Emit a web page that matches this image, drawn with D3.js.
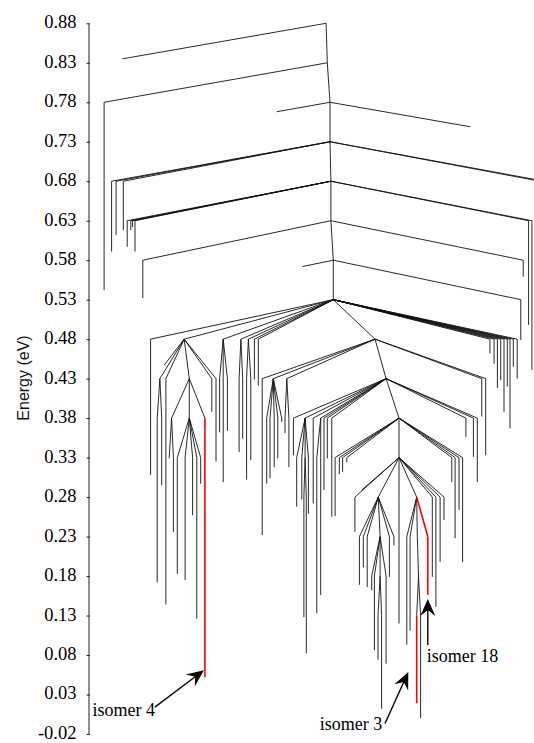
<!DOCTYPE html>
<html>
<head>
<meta charset="utf-8">
<script src="https://cdn.jsdelivr.net/npm/d3@7"></script>
<style>
  body { margin: 0; background: #fff; }
</style>
</head>
<body>
<div id="chart"></div>
<script>
// Disconnectivity graph: energy levels every 0.05 eV, minima hang below their basins

// tick labels of the energy axis
var tickLabels = ["0.88","0.83","0.78","0.73","0.68","0.63","0.58","0.53","0.48","0.43",
                  "0.38","0.33","0.28","0.23","0.18","0.13","0.08","0.03","-0.02"];
var levelStep = 0.05;

// nodes: [id, parent, position (arbitrary layout units 0-150), energy eV]
// internal nodes carry their level energy, leaves carry the minimum energy
var trunk = [
  ["T88", null, 78.7, 0.88],
  ["T83", "T88", 79.1, 0.83],
  ["T78", "T83", 80.0, 0.78],
  ["T73", "T78", 80.0, 0.73],
  ["T68", "T73", 80.3, 0.68],
  ["T63", "T68", 80.3, 0.63],
  ["T58", "T63", 81.1, 0.58],
  ["T53", "T58", 81.1, 0.53],
  ["T48", "T53", 95.0, 0.48],
  ["T43", "T48", 98.7, 0.43],
  ["T38", "T43", 103.0, 0.38],
  ["T33", "T38", 103.0, 0.33]
];

var upperBranches = [
  ["a1", "T88", 10.8, 0.835],
  ["a2", "T83", 4.7, 0.542],
  ["a3", "T78", 62.2, 0.768],
  ["a4", "T78", 126.7, 0.749],
  ["b1", "T73", 7.2, 0.591],
  ["b2", "T73", 8.7, 0.612],
  ["b3", "T73", 11.1, 0.618],
  ["b5", "T73", 150.0, 0.62],
  ["b6", "T73", 151.5, 0.60],
  ["c1", "T68", 12.4, 0.597],
  ["c2", "T68", 13.6, 0.618],
  ["c3", "T68", 14.2, 0.622],
  ["c4", "T68", 15.0, 0.591],
  ["c5", "T68", 146.2, 0.498],
  ["c6", "T68", 147.3, 0.441],
  ["d1", "T63", 17.6, 0.532],
  ["d2", "T63", 144.4, 0.559],
  ["e1", "T58", 70.8, 0.572],
  ["e2", "T58", 143.6, 0.479]
];

var rootBundle = [
  ["f1", "T53", 20.2, 0.308],
  ["A", "T53", 31.4, 0.48],
  ["F", "T53", 44.4, 0.48],
  ["G", "T53", 50.3, 0.48],
  ["H", "T53", 52.8, 0.48],
  ["f2", "T53", 54.8, 0.429],
  ["f3", "T53", 56.1, 0.421],
  ["r1", "T53", 133.3, 0.462],
  ["r2", "T53", 134.7, 0.449],
  ["r3", "T53", 135.8, 0.418],
  ["r4", "T53", 136.9, 0.428],
  ["r5", "T53", 138.0, 0.388],
  ["r6", "T53", 139.1, 0.420],
  ["r7", "T53", 140.0, 0.367],
  ["r8", "T53", 141.1, 0.445],
  ["r9", "T53", 142.4, 0.430]
];

var leftCluster = [
  ["A1", "A", 24.7, 0.447],
  ["C", "A", 23.3, 0.43],
  ["A2", "A", 25.3, 0.144],
  ["B", "A", 33.1, 0.43],
  ["A3", "A", 40.6, 0.388],
  ["A4", "A", 42.0, 0.325],
  ["C1", "C", 22.4, 0.172],
  ["C2", "C", 23.9, 0.295],
  ["Q", "B", 27.2, 0.38],
  ["D", "B", 33.1, 0.38],
  ["iso4", "B", 38.3, 0.052],
  ["Q1", "Q", 26.4, 0.329],
  ["Q2", "Q", 27.8, 0.236],
  ["D1", "D", 29.1, 0.183],
  ["D2", "D", 31.7, 0.175],
  ["D3", "D", 34.2, 0.257],
  ["D4", "D", 35.6, 0.126],
  ["D5", "D", 36.9, 0.297]
];

var middleCluster = [
  ["F1", "F", 43.2, 0.362],
  ["F2", "F", 44.4, 0.299],
  ["F3", "F", 45.8, 0.364],
  ["G1", "G", 49.7, 0.337],
  ["G2", "G", 50.9, 0.354],
  ["H1", "H", 52.2, 0.302],
  ["H2", "H", 53.6, 0.327]
];

var t48Cluster = [
  ["g1", "T48", 57.4, 0.232],
  ["I", "T48", 61.1, 0.43],
  ["J", "T48", 65.6, 0.43],
  ["g2", "T48", 130.6, 0.382],
  ["g3", "T48", 131.9, 0.333],
  ["I1", "I", 58.9, 0.297],
  ["I2", "I", 60.0, 0.304],
  ["I3", "I", 61.4, 0.318],
  ["I4", "I", 62.6, 0.329],
  ["I5", "I", 63.9, 0.375],
  ["J1", "J", 65.0, 0.361],
  ["J2", "J", 66.3, 0.318]
];

var t43Cluster = [
  ["h1", "T43", 67.8, 0.333],
  ["K", "T43", 71.7, 0.38],
  ["h2", "T43", 74.4, 0.272],
  ["L", "T43", 76.9, 0.38],
  ["h3", "T43", 78.0, 0.289],
  ["h4", "T43", 79.1, 0.329],
  ["h5", "T43", 80.6, 0.255],
  ["h6", "T43", 125.3, 0.356],
  ["h7", "T43", 127.8, 0.331],
  ["h8", "T43", 129.1, 0.299],
  ["k1", "K", 68.9, 0.268],
  ["k2", "K", 70.6, 0.277],
  ["K2", "K", 71.7, 0.33],
  ["k3", "K", 72.8, 0.259],
  ["k4", "K2", 71.3, 0.128],
  ["k5", "K2", 72.1, 0.082],
  ["l1", "L", 75.6, 0.133],
  ["l2", "L", 76.9, 0.156]
];

var t38Cluster = [
  ["m1", "T38", 81.7, 0.256],
  ["m2", "T38", 83.1, 0.309],
  ["m3", "T38", 84.2, 0.312],
  ["m4", "T38", 85.6, 0.324],
  ["m5", "T38", 120.6, 0.299],
  ["m6", "T38", 121.7, 0.228],
  ["m7", "T38", 123.0, 0.264],
  ["m8", "T38", 124.2, 0.198]
];

var t33Cluster = [
  ["n1", "T33", 88.3, 0.236],
  ["n2", "T33", 90.6, 0.289],
  ["M", "T33", 96.1, 0.28],
  ["n3", "T33", 103.0, 0.12],
  ["N", "T33", 108.9, 0.28],
  ["n4", "T33", 114.1, 0.179],
  ["n5", "T33", 115.3, 0.141],
  ["n6", "T33", 116.7, 0.198],
  ["n7", "T33", 118.0, 0.251],
  ["o1", "M", 89.8, 0.169],
  ["o2", "M", 91.1, 0.191],
  ["o3", "M", 92.4, 0.166],
  ["P", "M", 96.7, 0.23],
  ["o4", "M", 99.8, 0.179],
  ["o5", "M", 101.3, 0.219],
  ["p1", "P", 93.9, 0.162],
  ["p2", "P", 94.8, 0.086],
  ["P2", "P", 96.7, 0.18],
  ["p3", "P", 98.7, 0.069],
  ["p4", "P2", 96.0, 0.074],
  ["p5", "P2", 97.2, 0.012],
  ["q1", "N", 105.6, 0.093],
  ["q2", "N", 106.7, 0.111],
  ["O", "N", 109.1, 0.23],
  ["iso18", "N", 112.6, 0.156],
  ["O2", "O", 109.5, 0.18],
  ["iso3", "O2", 108.9, 0.019],
  ["q3", "O2", 110.2, 0.0]
];

// highlighted minima: "drop" = only the vertical part red, "full" = branch red too
var highlightIds = ["iso4", "iso3", "iso18"];
var highlightMode = ["drop", "drop", "full"];
var labelTexts = ["isomer 4", "isomer 3", "isomer 18"];

var W = 534, H = 743;
var svg = d3.select("#chart").append("svg")
    .attr("width", W)
    .attr("height", H);

var x = d3.scaleLinear().domain([0, 150]).range([90, 540]);
var y = d3.scaleLinear().domain([-0.02, 0.88]).range([734, 23.3]);

//build the tree
var rows = [].concat(trunk, upperBranches, rootBundle, leftCluster, middleCluster,
                     t48Cluster, t43Cluster, t38Cluster, t33Cluster);
var nodes = {};
rows.forEach(function(r) {
  nodes[r[0]] = { id: r[0], parent: r[1], pos: r[2], energy: r[3], children: [] };
});
rows.forEach(function(r) { if (r[1]) nodes[r[1]].children.push(r[0]); });

//one segment from the parent to the child, plus a drop for each minimum
var segs = [];
rows.forEach(function(r) {
  var n = nodes[r[0]];
  if (!n.parent) return;
  var p = nodes[n.parent];
  var leaf = n.children.length == 0;
  var bend = leaf ? Math.max(n.energy, p.energy - levelStep) : n.energy;
  var hi = highlightIds.indexOf(n.id);
  var mode = hi >= 0 ? highlightMode[hi] : null;
  segs.push({ x1: x(p.pos), y1: y(p.energy), x2: x(n.pos), y2: y(bend), red: mode == "full" });
  if (leaf && n.energy < bend) {
    segs.push({ x1: x(n.pos), y1: y(bend), x2: x(n.pos), y2: y(n.energy), red: mode != null });
  }
});

svg.append("g")
  .selectAll("line")
  .data(segs.filter(d => !d.red))
  .join("line")
  .attr("x1", d => d.x1).attr("y1", d => d.y1)
  .attr("x2", d => d.x2).attr("y2", d => d.y2)
  .attr("stroke", "#111")
  .attr("stroke-width", 0.9);

svg.append("g")
  .selectAll("line")
  .data(segs.filter(d => d.red))
  .join("line")
  .attr("x1", d => d.x1).attr("y1", d => d.y1)
  .attr("x2", d => d.x2).attr("y2", d => d.y2)
  .attr("stroke", "#f00")
  .attr("stroke-width", 1.6);

//energy axis
var tickValues = tickLabels.map(Number);
var axis = d3.axisLeft(y)
  .tickValues(tickValues)
  .tickFormat((d, i) => tickLabels[i])
  .tickSize(2)
  .tickSizeOuter(0)
  .tickPadding(10);
var gAxis = svg.append("g")
  .attr("transform", "translate(88.5,0)")
  .call(axis);
gAxis.select(".domain").attr("stroke", "#222");
gAxis.selectAll(".tick line").attr("x1", 1.5).attr("stroke", "#222");
gAxis.selectAll(".tick text")
  .attr("fill", "#000")
  .attr("dy", "0.24em")
  .style("font-family", "'Liberation Serif', 'Times New Roman', serif")
  .style("font-size", "18.5px");

svg.append("text")
  .attr("transform", "translate(29,378) rotate(-90)")
  .attr("text-anchor", "middle")
  .style("font-family", "'Liberation Sans', Arial, sans-serif")
  .style("font-size", "16px")
  .attr("fill", "#111")
  .text("Energy (eV)");

//arrows with labels pointing at the highlighted minima
var arrowOffsets = [
  { tip: [-1, -7], tail: [-49, 37], text: [-49, 46], anchor: "end" },
  { tip: [-8.4, -31.3], tail: [-23.3, 51.6], text: [-26, 58], anchor: "end" },
  { tip: [0, 4], tail: [0, 46], text: [-1, 63], anchor: "start" }
];

function arrowHead(tx, ty, fx, fy) {
  var ang = Math.atan2(ty - fy, tx - fx);
  var len = 17, half = 7.5, notch = 11;
  var ca = Math.cos(ang), sa = Math.sin(ang);
  function pt(a, b) { return [tx - a * ca - b * sa, ty - a * sa + b * ca]; }
  return "M" + [tx, ty] + "L" + pt(len, half) + "L" + pt(notch, 0) + "L" + pt(len, -half) + "Z";
}

highlightIds.forEach(function(id, i) {
  var n = nodes[id];
  var o = arrowOffsets[i];
  var bx = x(n.pos), by = y(n.energy);
  var tx = bx + o.tip[0], ty = by + o.tip[1];
  var fx = tx + o.tail[0], fy = ty + o.tail[1];
  var d = Math.hypot(tx - fx, ty - fy);
  svg.append("line")
    .attr("x1", fx).attr("y1", fy)
    .attr("x2", tx - (tx - fx) / d * 11)
    .attr("y2", ty - (ty - fy) / d * 11)
    .attr("stroke", "#000")
    .attr("stroke-width", 1.4);
  svg.append("path")
    .attr("d", arrowHead(tx, ty, fx, fy))
    .attr("fill", "#000");
  svg.append("text")
    .attr("x", tx + o.text[0])
    .attr("y", ty + o.text[1])
    .attr("text-anchor", o.anchor)
    .style("font-family", "'Liberation Serif', 'Times New Roman', serif")
    .style("font-size", "18px")
    .attr("fill", "#000")
    .text(labelTexts[i]);
});
</script>
</body>
</html>
